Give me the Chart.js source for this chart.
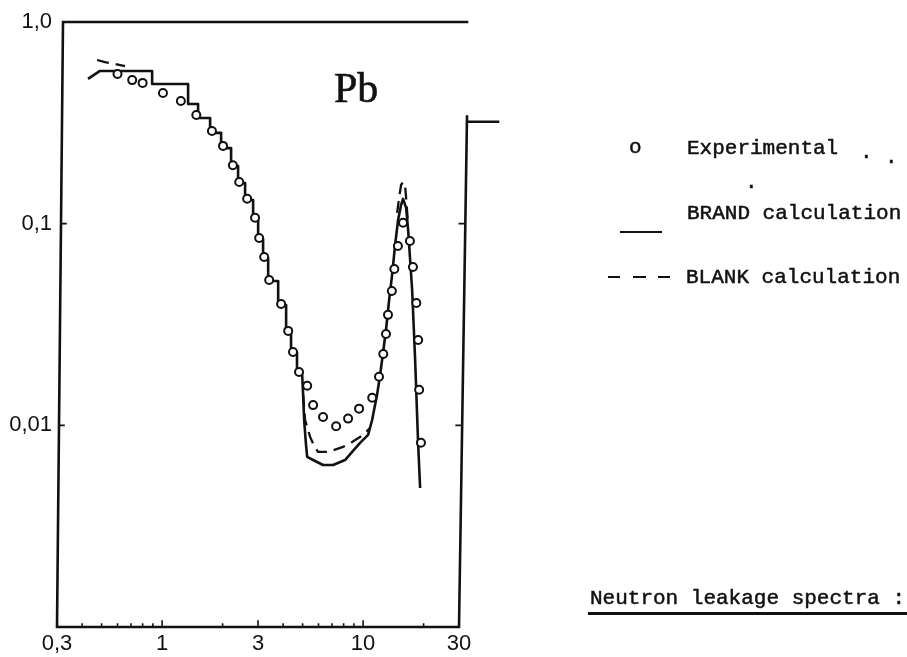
<!DOCTYPE html>
<html>
<head>
<meta charset="utf-8">
<script src="https://cdn.jsdelivr.net/npm/chart.js@4.4.1/dist/chart.umd.min.js"></script>
<style>
  html, body { margin: 0; padding: 0; background: #fff; overflow: hidden; }
  #wrap { position: relative; width: 907px; height: 657px; }
  #wrap canvas { position: absolute; left: 0; top: 0; }
  .txt { position: absolute; font-family: "Liberation Mono", monospace; font-size: 21px; line-height: 1; color: #111; white-space: nowrap; -webkit-text-stroke: 0.5px #111; }
  .bar { position: absolute; background: #111; height: 2px; }
  #pb { position: absolute; left: 334px; top: 67px; font-family: "Liberation Serif", serif; font-size: 42px; line-height: 1; color: #111; -webkit-text-stroke: 0.6px #111; }
</style>
</head>
<body>
<div id="wrap">
  <canvas id="grafica"></canvas>
  <div id="pb">Pb</div>

  <div class="txt" style="left:629px; top:137px;">o</div>
  <div class="txt" style="left:687px; top:138px;">Experimental</div>
  <div class="txt" style="left:860px; top:142px;">.</div>
  <div class="txt" style="left:885px; top:147px;">.</div>
  <div class="txt" style="left:745px; top:172px;">.</div>

  <div class="bar" style="left:620px; top:231px; width:42px;"></div>
  <div class="txt" style="left:687px; top:203px;">BRAND calculation</div>

  <div class="bar" style="left:608px; top:276px; width:12px;"></div>
  <div class="bar" style="left:633px; top:276px; width:13px;"></div>
  <div class="bar" style="left:658px; top:276px; width:12px;"></div>
  <div class="txt" style="left:686px; top:267px;">BLANK calculation</div>

  <div class="txt" style="left:590px; top:588px;">Neutron leakage spectra :</div>
  <div class="bar" style="left:588px; top:612px; width:330px; height:2.5px;"></div>
</div>
<script>
// ejes
const xTicks = [0.3, 0.4, 0.5, 0.6, 0.7, 0.8, 0.9, 1, 2, 3, 4, 5, 6, 7, 8, 9, 10, 20, 30];
const xLabelValues = [0.3, 1, 3, 10, 30];
const xLabelTexts = ['0,3', '1', '3', '10', '30'];
const yTicks = [0.001, 0.01, 0.1, 1];
const yLabelValues = [0.01, 0.1, 1];
const yLabelTexts = ['0,01', '0,1', '1,0'];

// Experimental (circulos)
const expX = [0.60, 0.71, 0.80, 1.01, 1.24, 1.48, 1.77, 2.01, 2.25, 2.42, 2.65, 2.90, 3.04, 3.22, 3.41, 3.91, 4.24, 4.48, 4.80, 5.27,
  5.64, 6.32, 7.34, 8.42, 9.55, 11.1, 12.0, 12.6, 13.0, 13.3, 13.9, 14.3, 14.9, 15.8, 17.1, 17.7, 18.4, 18.8, 19.0, 19.4];
const expY = [0.552, 0.515, 0.499, 0.445, 0.406, 0.346, 0.288, 0.243, 0.195, 0.161, 0.133, 0.107, 0.0849, 0.0684, 0.0526, 0.040, 0.0294, 0.0231, 0.0184, 0.0157,
  0.0126, 0.0110, 0.0099, 0.0108, 0.0121, 0.0137, 0.0174, 0.0226, 0.0284, 0.0353, 0.0464, 0.0596, 0.0775, 0.101, 0.082, 0.061, 0.0404, 0.0265, 0.0150, 0.0082];

// BRAND calculation (linea continua, histograma al principio)
const brandX = [0.428, 0.491, 0.892, 0.892, 1.347, 1.347, 1.510, 1.510, 1.733, 1.733, 1.966, 1.966, 2.204, 2.204, 2.388, 2.388, 2.588, 2.588,
  2.837, 2.837, 3.005, 3.005, 3.18, 3.18, 3.37, 3.37, 3.78, 3.78, 4.14, 4.14, 4.38, 4.38, 4.69, 4.69, 4.97,
  5.03, 5.09, 5.20, 5.27, 5.64, 6.32, 7.09, 8.13, 8.82, 9.66, 10.59, 11.09, 11.74, 12.15, 12.58, 13.0, 13.47, 13.94,
  14.43, 14.93, 15.45, 15.81, 16.37, 16.75, 17.54, 18.15, 18.78, 19.22];
const brandY = [0.522, 0.572, 0.572, 0.493, 0.493, 0.392, 0.392, 0.334, 0.334, 0.282, 0.282, 0.237, 0.237, 0.193, 0.193, 0.159, 0.159, 0.131,
  0.131, 0.1055, 0.1055, 0.0840, 0.0840, 0.0676, 0.0676, 0.0520, 0.0520, 0.0395, 0.0395, 0.0290, 0.0290, 0.0229, 0.0229, 0.0182, 0.0182,
  0.0142, 0.01063, 0.0080, 0.00697, 0.00673, 0.00636, 0.00636, 0.00673, 0.00738, 0.00818, 0.00896, 0.01063, 0.0142, 0.01778, 0.0231, 0.0297, 0.0418, 0.0557,
  0.0784, 0.1043, 0.1238, 0.1326, 0.1197, 0.0931, 0.0469, 0.0211, 0.00818, 0.00489];

// BLANK calculation (discontinua, solo donde se separa de BRAND)
const blankX = [0.475, 0.520, 0.654, 0.654,
  5.03, 5.145, 5.45, 5.71, 5.97, 6.70, 7.95, 8.82, 10.0, 10.83, 10.83,
  14.77, 15.10, 15.45, 15.81, 16.18, 16.37, 16.75];
const blankY = [0.648, 0.633, 0.605, null,
  0.0142, 0.01063, 0.00876, 0.00791, 0.00738, 0.00738, 0.00782, 0.00827, 0.00896, 0.0097, null,
  0.113, 0.134, 0.1555, 0.161, 0.154, 0.134, 0.0985];

function puntos(xs, ys) {
  return xs.map((v, i) => ({ x: v, y: ys[i] }));
}

const marco = {
  id: 'marco',
  afterDatasetsDraw(chart) {
    const { ctx, chartArea: a, scales: { x, y } } = chart;
    const yr = y.getPixelForValue(0.34);
    const xl = yy => a.left + 6 * (a.bottom - yy) / (a.bottom - a.top);
    const xr = yy => a.right + 8 * (a.bottom - yy) / (a.bottom - yr);
    ctx.save();
    ctx.strokeStyle = '#111';
    ctx.lineCap = 'square';
    ctx.lineWidth = 2.6;
    ctx.beginPath();
    ctx.moveTo(a.left + 6, a.top);
    ctx.lineTo(a.left, a.bottom);
    ctx.lineTo(a.right, a.bottom);
    ctx.lineTo(a.right + 8, yr);
    ctx.moveTo(a.left + 6, a.top);
    ctx.lineTo(a.right + 8, a.top);
    const ys = y.getPixelForValue(0.32);
    ctx.moveTo(a.right + 8, ys);
    ctx.lineTo(a.right + 39, ys);
    ctx.stroke();

    // marcas hacia dentro
    ctx.lineWidth = 1.6;
    ctx.beginPath();
    xTicks.slice(1, -1).forEach(v => {
      const px = x.getPixelForValue(v);
      const len = xLabelValues.includes(v) ? 6 : 3;
      ctx.moveTo(px, a.bottom);
      ctx.lineTo(px, a.bottom - len);
    });
    [0.1, 0.01].forEach(v => {
      const py = y.getPixelForValue(v);
      ctx.moveTo(xl(py), py);
      ctx.lineTo(xl(py) + 5, py);
      ctx.moveTo(xr(py), py);
      ctx.lineTo(xr(py) - 6, py);
    });
    ctx.stroke();
    ctx.restore();
  }
};

const ctx = document.getElementById('grafica').getContext('2d');
document.getElementById('grafica').width = 907;
document.getElementById('grafica').height = 657;

new Chart(ctx, {
  type: 'scatter',
  data: {
    datasets: [{
      label: 'Experimental',
      data: puntos(expX, expY),
      showLine: false,
      pointRadius: 4,
      pointBorderWidth: 2,
      pointBackgroundColor: '#fff',
      pointBorderColor: '#111'
    }, {
      label: 'BRAND calculation',
      data: puntos(brandX, brandY),
      showLine: true,
      pointRadius: 0,
      borderColor: '#111',
      borderWidth: 2.6,
      borderJoinStyle: 'round'
    }, {
      label: 'BLANK calculation',
      data: puntos(blankX, blankY),
      showLine: true,
      spanGaps: false,
      pointRadius: 0,
      borderColor: '#111',
      borderWidth: 2.3,
      borderDash: [12, 7]
    }]
  },
  options: {
    responsive: false,
    animation: false,
    layout: { padding: { left: 0, right: 448, top: 22, bottom: 0 } },
    plugins: { legend: { display: false }, tooltip: { enabled: false } },
    scales: {
      x: {
        type: 'logarithmic',
        min: 0.3,
        max: 30,
        grid: { display: false, drawTicks: false },
        border: { display: false },
        afterBuildTicks: s => { s.ticks = xTicks.map(v => ({ value: v })); },
        afterFit: s => { s.height = 30; },
        ticks: {
          autoSkip: false,
          maxRotation: 0,
          padding: 4,
          color: '#111',
          font: { family: 'Liberation Sans', size: 22 },
          callback: v => {
            const i = xLabelValues.indexOf(v);
            return i >= 0 ? xLabelTexts[i] : '';
          }
        }
      },
      y: {
        type: 'logarithmic',
        min: 0.001,
        max: 1,
        grid: { display: false, drawTicks: false },
        border: { display: false },
        afterBuildTicks: s => { s.ticks = yTicks.map(v => ({ value: v })); },
        afterFit: s => { s.width = 57; },
        ticks: {
          autoSkip: false,
          padding: 5,
          color: '#111',
          font: { family: 'Liberation Sans', size: 22 },
          callback: v => {
            const i = yLabelValues.indexOf(v);
            return i >= 0 ? yLabelTexts[i] : '';
          }
        }
      }
    }
  },
  plugins: [marco]
});
</script>
</body>
</html>
